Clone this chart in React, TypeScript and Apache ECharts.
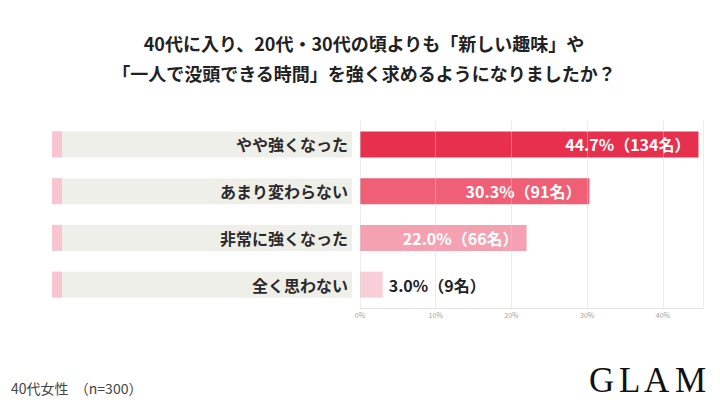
import React, { useEffect, useRef } from "react";
import * as echarts from "echarts";

const categories = ["やや強くなった", "あまり変わらない", "非常に強くなった", "全く思わない"];
const percents = [44.7, 30.3, 22.0, 3.0];
const counts = [134, 91, 66, 9];
const barColors = ["#E7304E", "#EF5F75", "#F4A2B2", "#F8CED7"];
const tickValues = [0, 10, 20, 30, 40];
const titleText = "40代に入り、20代・30代の頃よりも「新しい趣味」や\n「一人で没頭できる時間」を強く求めるようになりましたか？";
const footnote = "40代女性  （n=300）";
const logoLetters = ["G", "L", "A", "M"];

const JP = "'Noto Sans CJK JP', 'Noto Sans', sans-serif";

export default function App() {
  const ref = useRef<HTMLDivElement>(null);
  useEffect(() => {
    if (!ref.current) return;
    const chart = echarts.init(ref.current, undefined, { renderer: "svg" });
    const gridTop = 121;
    const gridBottom = 97;
    const logoX = [589, 619, 644, 675];
    chart.setOption({
      animation: false,
      backgroundColor: "#ffffff",
      textStyle: { fontFamily: JP },
      title: {
        text: titleText,
        left: 359,
        top: 23,
        textAlign: "center",
        textStyle: {
          fontFamily: JP,
          fontSize: 18,
          fontWeight: "bold",
          color: "#222222",
          lineHeight: 30,
        },
      },
      grid: [
        { left: 360, right: 17, top: gridTop, bottom: gridBottom },
        { left: 52, width: 300, top: gridTop, bottom: gridBottom },
      ],
      xAxis: [
        {
          type: "value",
          gridIndex: 0,
          min: 0,
          max: 45.3,
          interval: 10,
          z: 5,
          axisLine: { show: true, lineStyle: { color: "#e2e2e2", width: 1 } },
          axisTick: { show: false },
          splitLine: { show: true, lineStyle: { color: "#d4d4d4", opacity: 0.45, width: 1 } },
          axisLabel: {
            showMaxLabel: false,
            fontSize: 7,
            color: "#a0a0a0",
            margin: 3,
            formatter: (v: number) => (tickValues.includes(v) ? v + "%" : ""),
          },
        },
        {
          type: "value",
          gridIndex: 1,
          min: 0,
          max: 300,
          show: false,
        },
      ],
      yAxis: [
        {
          type: "category",
          gridIndex: 0,
          data: categories,
          inverse: true,
          axisLine: { show: false },
          axisTick: { show: false },
          axisLabel: { show: false },
        },
        {
          type: "category",
          gridIndex: 1,
          data: categories,
          inverse: true,
          show: false,
        },
      ],
      series: [
        {
          type: "bar",
          xAxisIndex: 0,
          yAxisIndex: 0,
          barWidth: 26,
          data: percents.map((v, i) => ({
            value: v,
            itemStyle: { color: barColors[i] },
            label:
              i === 3
                ? { position: "right", distance: 6, color: "#222222" }
                : { position: "insideRight", distance: 8, color: "#ffffff" },
          })),
          label: {
            show: true,
            fontFamily: JP,
            fontSize: 16,
            fontWeight: "bold",
            formatter: (p: any) => `${percents[p.dataIndex].toFixed(1)}%（${counts[p.dataIndex]}名）`,
          },
        },
        {
          type: "bar",
          xAxisIndex: 1,
          yAxisIndex: 1,
          barWidth: 26,
          silent: true,
          itemStyle: { color: "#EFEFEA" },
          data: categories.map(() => 300),
          label: {
            show: true,
            position: "insideRight",
            distance: 4,
            fontFamily: JP,
            fontSize: 16,
            fontWeight: "bold",
            color: "#2a2a2a",
            formatter: (p: any) => categories[p.dataIndex],
          },
        },
        {
          type: "bar",
          xAxisIndex: 1,
          yAxisIndex: 1,
          barWidth: 26,
          barGap: "-100%",
          silent: true,
          itemStyle: { color: "#F7C6D0" },
          data: categories.map(() => 10),
        },
      ],
      graphic: [
        {
          type: "text",
          left: 11,
          top: 381,
          style: {
            text: footnote,
            font: `14px ${JP}`,
            fill: "#444444",
          },
        },
        ...logoLetters.map((ch, i) => ({
          type: "text",
          left: logoX[i],
          top: 363,
          style: {
            text: ch,
            font: "35px 'Liberation Serif', 'DejaVu Serif', serif",
            fill: "#111111",
          },
        })),
      ],
    });
    return () => chart.dispose();
  }, []);
  return <div ref={ref} style={{ width: 720, height: 405, position: "absolute", left: 0, top: 0 }} />;
}
